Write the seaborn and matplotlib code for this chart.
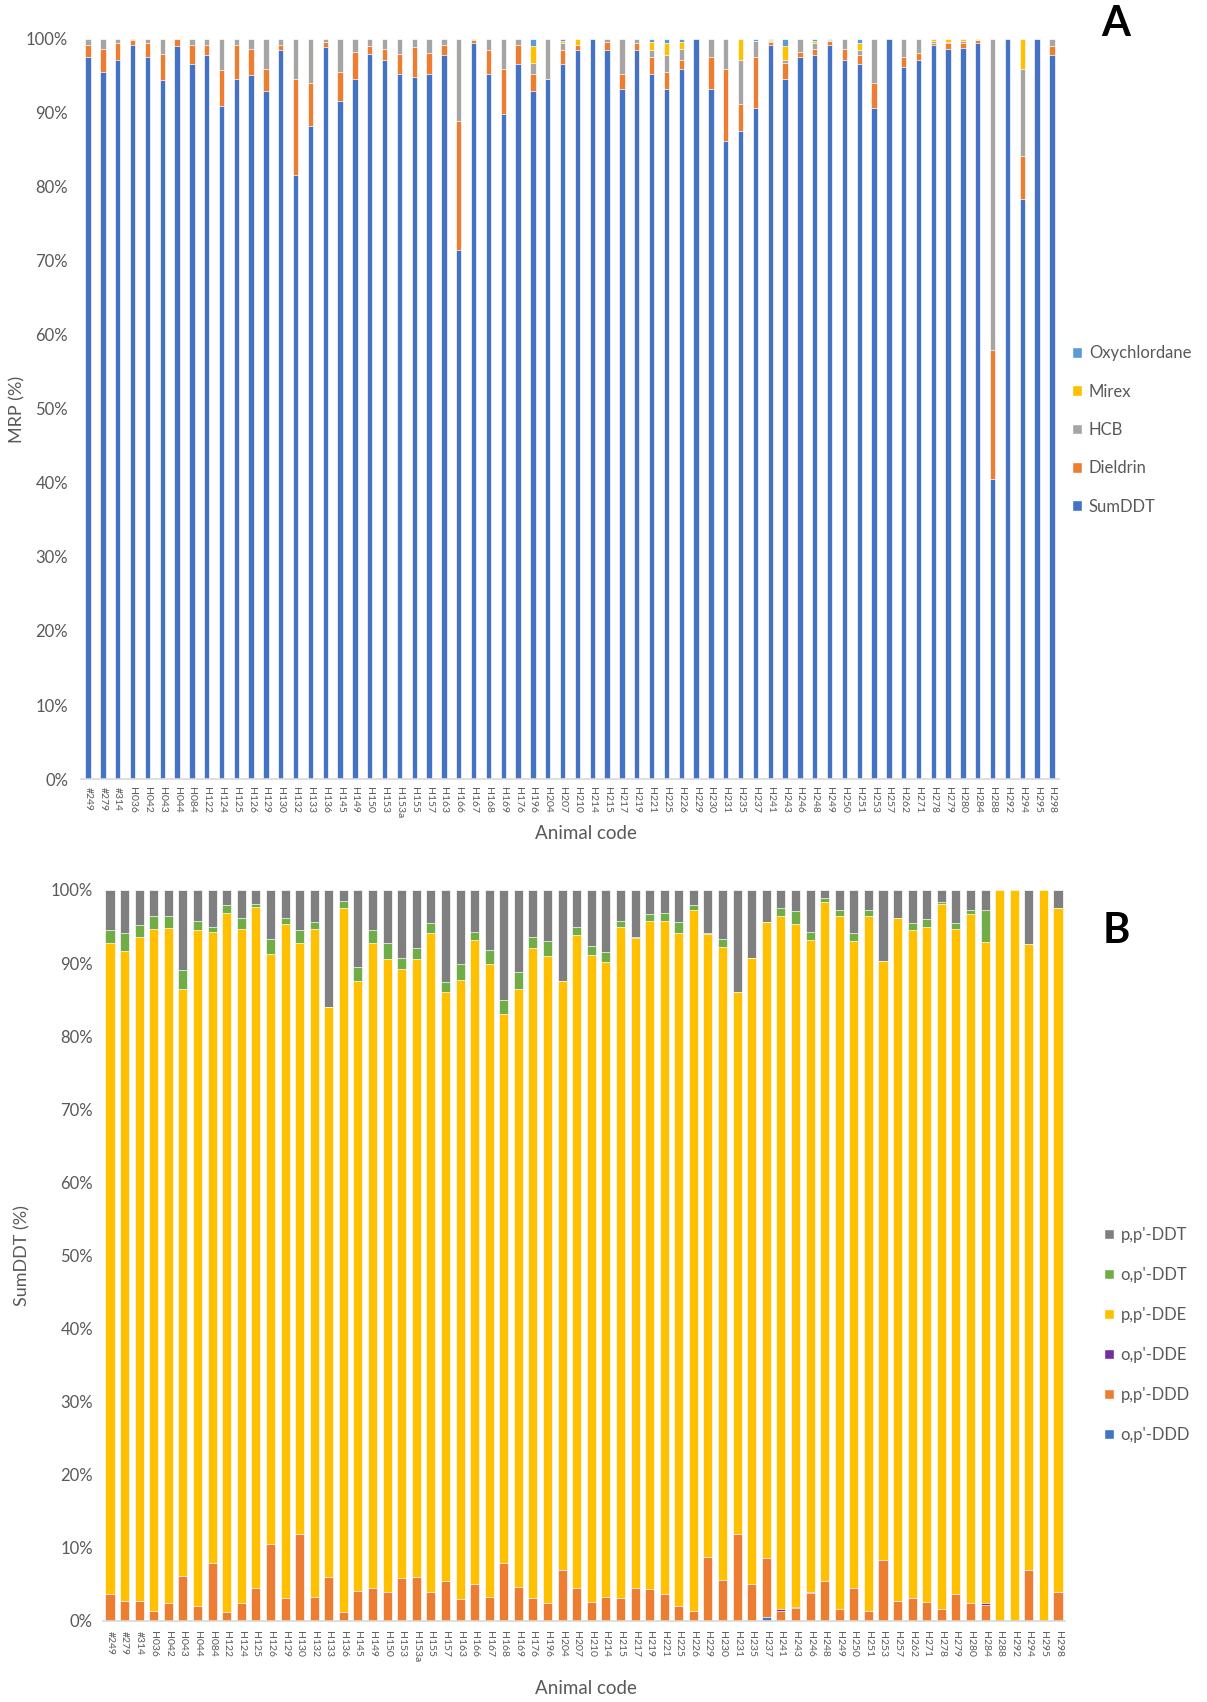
import numpy as np
import pandas as pd
import matplotlib
matplotlib.use("Agg")
import matplotlib.pyplot as plt
from matplotlib.patches import Patch
from matplotlib.ticker import PercentFormatter, MultipleLocator
import seaborn as sns

# ---------------------------------------------------------------- data
animal_codes = [
    "#249", "#279", "#314", "H036", "H042", "H043", "H044", "H084", "H122", "H124",
    "H125", "H126", "H129", "H130", "H132", "H133", "H136", "H145", "H149", "H150",
    "H153", "H153a", "H155", "H157", "H163", "H166", "H167", "H168", "H169", "H176",
    "H196", "H204", "H207", "H210", "H214", "H215", "H217", "H219", "H221", "H225",
    "H226", "H229", "H230", "H231", "H235", "H237", "H241", "H243", "H246", "H248",
    "H249", "H250", "H251", "H253", "H257", "H262", "H271", "H278", "H279", "H280",
    "H284", "H288", "H292", "H294", "H295", "H298",
]

# Panel A: composition of the measured residue profile (%)
sum_ddt = [
    97.6, 95.6, 97.1, 99.2, 97.5, 94.4, 99.1, 96.6, 97.8, 91.0,
    94.6, 95.1, 93.0, 98.5, 81.6, 88.3, 98.9, 91.6, 94.6, 98.0,
    97.1, 95.3, 94.8, 95.3, 97.8, 71.5, 99.4, 95.3, 89.8, 96.6,
    93.0, 94.6, 96.6, 98.5, 100.0, 98.5, 93.2, 98.5, 95.3, 93.2,
    96.0, 100.0, 93.3, 86.2, 87.5, 90.7, 99.2, 94.6, 97.5, 97.8,
    99.2, 97.2, 96.6, 90.7, 100.0, 96.2, 97.1, 99.2, 98.7, 98.8,
    99.4, 40.5, 100.0, 78.2, 100.0, 97.8,
]
dieldrin = [
    1.6, 3.1, 2.3, 0.6, 1.9, 3.6, 0.9, 2.6, 1.4, 4.8,
    4.6, 3.6, 3.0, 0.7, 13.0, 5.7, 0.7, 3.9, 3.7, 1.1,
    1.6, 2.7, 4.1, 2.8, 1.4, 17.4, 0.5, 3.2, 6.2, 2.6,
    2.3, 0.0, 1.9, 0.7, 0.0, 1.1, 2.1, 1.0, 2.3, 2.3,
    1.2, 0.0, 4.3, 9.8, 3.7, 6.8, 0.35, 2.1, 0.8, 0.9,
    0.5, 1.5, 1.2, 3.3, 0.0, 1.4, 1.0, 0.2, 0.7, 0.7,
    0.4, 17.5, 0.0, 5.7, 0.0, 1.3,
]
hcb = [
    0.8, 1.3, 0.6, 0.2, 0.6, 2.0, 0.0, 0.8, 0.8, 4.2,
    0.8, 1.3, 4.0, 0.8, 5.4, 6.0, 0.4, 4.5, 1.7, 0.9,
    1.3, 2.0, 1.1, 1.9, 0.8, 11.1, 0.1, 1.5, 4.0, 0.8,
    1.4, 5.4, 0.9, 0.0, 0.0, 0.4, 4.7, 0.5, 0.9, 2.3,
    1.5, 0.0, 2.4, 4.0, 5.9, 2.2, 0.2, 0.5, 1.7, 0.7,
    0.0, 1.3, 0.7, 6.0, 0.0, 2.4, 1.9, 0.3, 0.2, 0.2,
    0.0, 42.0, 0.0, 11.8, 0.0, 0.9,
]
mirex = [
    0.0, 0.0, 0.0, 0.0, 0.0, 0.0, 0.0, 0.0, 0.0, 0.0,
    0.0, 0.0, 0.0, 0.0, 0.0, 0.0, 0.0, 0.0, 0.0, 0.0,
    0.0, 0.0, 0.0, 0.0, 0.0, 0.0, 0.0, 0.0, 0.0, 0.0,
    2.4, 0.0, 0.3, 0.8, 0.0, 0.0, 0.0, 0.0, 1.1, 1.6,
    0.9, 0.0, 0.0, 0.0, 2.9, 0.0, 0.15, 1.9, 0.0, 0.3,
    0.2, 0.0, 0.9, 0.0, 0.0, 0.0, 0.0, 0.3, 0.4, 0.3,
    0.2, 0.0, 0.0, 4.0, 0.0, 0.0,
]
oxychlordane = [
    0.0, 0.0, 0.0, 0.0, 0.0, 0.0, 0.0, 0.0, 0.0, 0.0,
    0.0, 0.0, 0.0, 0.0, 0.0, 0.0, 0.0, 0.0, 0.0, 0.0,
    0.0, 0.0, 0.0, 0.0, 0.0, 0.0, 0.0, 0.0, 0.0, 0.0,
    0.9, 0.0, 0.3, 0.0, 0.0, 0.0, 0.0, 0.0, 0.4, 0.6,
    0.4, 0.0, 0.0, 0.0, 0.0, 0.3, 0.1, 0.9, 0.0, 0.3,
    0.1, 0.0, 0.6, 0.0, 0.0, 0.0, 0.0, 0.0, 0.0, 0.0,
    0.0, 0.0, 0.0, 0.0, 0.0, 0.0,
]

# Panel B: congener composition of SumDDT (%)
op_ddd = [
    0.0, 0.0, 0.0, 0.0, 0.0, 0.0, 0.0, 0.0, 0.0, 0.0,
    0.0, 0.0, 0.0, 0.0, 0.0, 0.0, 0.0, 0.0, 0.0, 0.0,
    0.0, 0.0, 0.0, 0.0, 0.0, 0.0, 0.0, 0.0, 0.0, 0.0,
    0.0, 0.0, 0.0, 0.0, 0.0, 0.0, 0.0, 0.0, 0.0, 0.0,
    0.0, 0.0, 0.0, 0.0, 0.0, 0.5, 0.0, 0.0, 0.0, 0.0,
    0.0, 0.0, 0.0, 0.0, 0.0, 0.0, 0.0, 0.0, 0.0, 0.0,
    0.0, 0.0, 0.0, 0.0, 0.0, 0.0,
]
pp_ddd = [
    3.7, 2.7, 2.7, 1.4, 2.4, 6.2, 2.0, 7.9, 1.2, 2.4,
    4.5, 10.5, 3.1, 11.9, 3.3, 6.0, 1.2, 4.1, 4.5, 4.0,
    5.9, 6.0, 4.0, 5.5, 3.0, 5.1, 3.3, 8.0, 4.7, 3.1,
    2.4, 7.0, 4.5, 2.6, 3.3, 3.1, 4.5, 4.4, 3.7, 2.1,
    1.4, 8.8, 5.6, 11.9, 5.1, 8.1, 1.4, 1.8, 3.8, 5.5,
    1.7, 4.5, 1.4, 8.4, 2.7, 3.1, 2.6, 1.6, 3.7, 2.4,
    2.2, 0.0, 0.0, 7.0, 0.0, 4.0,
]
op_dde = [
    0.0, 0.0, 0.0, 0.0, 0.0, 0.0, 0.0, 0.0, 0.0, 0.0,
    0.0, 0.0, 0.0, 0.0, 0.0, 0.0, 0.0, 0.0, 0.0, 0.0,
    0.0, 0.0, 0.0, 0.0, 0.0, 0.0, 0.0, 0.0, 0.0, 0.0,
    0.0, 0.0, 0.0, 0.0, 0.0, 0.0, 0.0, 0.0, 0.0, 0.0,
    0.0, 0.0, 0.0, 0.0, 0.0, 0.0, 0.2, 0.15, 0.2, 0.0,
    0.0, 0.0, 0.0, 0.0, 0.0, 0.0, 0.0, 0.0, 0.0, 0.0,
    0.2, 0.0, 0.0, 0.0, 0.0, 0.0,
]
pp_dde = [
    89.1, 88.9, 90.9, 93.3, 92.4, 80.3, 92.5, 86.4, 95.6, 92.2,
    93.2, 80.8, 92.3, 80.9, 91.4, 78.0, 96.3, 83.5, 88.3, 86.5,
    83.3, 84.5, 90.1, 80.6, 84.7, 88.1, 86.6, 75.1, 81.8, 89.0,
    88.6, 80.6, 89.4, 88.5, 86.8, 91.9, 88.9, 91.3, 92.1, 92.0,
    95.8, 85.2, 86.6, 74.2, 85.6, 87.0, 94.8, 93.4, 89.2, 92.8,
    94.8, 88.5, 95.1, 81.9, 93.4, 91.4, 92.4, 96.5, 91.0, 94.3,
    90.5, 100.0, 100.0, 85.6, 100.0, 93.5,
]
op_ddt = [
    1.7, 2.5, 1.6, 1.7, 1.7, 2.5, 1.3, 0.7, 1.2, 1.5,
    0.4, 2.0, 0.7, 1.7, 0.9, 0.0, 1.0, 1.9, 1.7, 2.3,
    1.5, 1.5, 1.4, 1.3, 2.2, 1.1, 1.9, 1.9, 2.3, 1.4,
    2.0, 0.0, 1.0, 1.3, 1.4, 0.8, 0.1, 1.0, 1.1, 1.5,
    0.8, 0.1, 1.1, 0.0, 0.0, 0.0, 1.1, 1.7, 1.1, 0.6,
    0.8, 1.1, 0.8, 0.0, 0.0, 1.0, 1.0, 0.2, 0.8, 0.6,
    4.4, 0.0, 0.0, 0.0, 0.0, 0.0,
]
pp_ddt = [
    5.5, 5.9, 4.8, 3.6, 3.5, 11.0, 4.2, 5.0, 2.0, 3.9,
    1.9, 6.7, 3.9, 5.5, 4.4, 16.0, 1.5, 10.5, 5.5, 7.2,
    9.3, 8.0, 4.5, 12.6, 10.1, 5.7, 8.2, 15.0, 11.2, 6.5,
    7.0, 12.4, 5.1, 7.6, 8.5, 4.2, 6.5, 3.3, 3.1, 4.4,
    2.0, 5.9, 6.7, 13.9, 9.3, 4.4, 2.5, 2.9, 5.7, 1.1,
    2.7, 5.9, 2.7, 9.7, 3.9, 4.5, 4.0, 1.7, 4.5, 2.7,
    2.7, 0.0, 0.0, 7.4, 0.0, 2.5,
]

# series in stacking order (bottom -> top), with Office-style colours
series_a = [
    ("SumDDT", sum_ddt, "#4472C4"),
    ("Dieldrin", dieldrin, "#ED7D31"),
    ("HCB", hcb, "#A5A5A5"),
    ("Mirex", mirex, "#FFC000"),
    ("Oxychlordane", oxychlordane, "#5B9BD5"),
]
series_b = [
    ("o,p'-DDD", op_ddd, "#4472C4"),
    ("p,p'-DDD", pp_ddd, "#ED7D31"),
    ("o,p'-DDE", op_dde, "#7030A0"),
    ("p,p'-DDE", pp_dde, "#FFC000"),
    ("o,p'-DDT", op_ddt, "#70AD47"),
    ("p,p'-DDT", pp_ddt, "#7F7F7F"),
]

# ---------------------------------------------------------------- style
sns.set_theme(style="white")
plt.rcParams["font.family"] = ["Lato", "DejaVu Sans"]
TEXT = "#595959"


def stacked_percent(ax, series, width):
    """100 % stacked bars: cumulative heights drawn tallest first."""
    df = pd.DataFrame({name: vals for name, vals, _ in series}, index=animal_codes)
    df = df.div(df.sum(axis=1), axis=0)
    cum = df.cumsum(axis=1)
    for name, _, color in reversed(series):
        sns.barplot(x=animal_codes, y=cum[name].values, order=animal_codes,
                    color=color, saturation=1, width=width, errorbar=None,
                    edgecolor="white", linewidth=0.5, ax=ax)
    ax.set_ylim(0, 1)
    ax.set_xlim(-0.5, len(animal_codes) - 0.5)
    ax.yaxis.set_major_locator(MultipleLocator(0.1))
    ax.yaxis.set_major_formatter(PercentFormatter(1.0, decimals=0))
    for s in ("top", "right", "left"):
        ax.spines[s].set_visible(False)
    ax.spines["bottom"].set_color("#D9D9D9")
    ax.spines["bottom"].set_linewidth(1.2)
    ax.grid(False)
    ax.tick_params(axis="y", length=0, labelsize=12, labelcolor=TEXT)
    ax.tick_params(axis="x", length=0, labelsize=7.5, labelcolor=TEXT)
    plt.setp(ax.get_xticklabels(), rotation=270, ha="center", va="top")


fig = plt.figure(figsize=(12.07, 17.02), dpi=100)

# ---------------------------------------------------------------- panel A
ax_a = fig.add_axes([0.0668, 0.5423, 0.8109, 0.4348])
stacked_percent(ax_a, series_a, 0.36)
ax_a.tick_params(axis="y", pad=9)
ax_a.tick_params(axis="x", pad=6)
ax_a.set_ylabel("MRP (%)", fontsize=13, color=TEXT)
ax_a.yaxis.set_label_coords(-0.056, 0.5)
ax_a.set_xlabel("Animal code", fontsize=13.5, color=TEXT)
ax_a.xaxis.set_label_coords(0.516, -0.062)
ax_a.legend(handles=[Patch(facecolor=c, label=n) for n, _, c in reversed(series_a)],
            loc="upper left", bbox_to_anchor=(0.876, 0.806),
            bbox_transform=fig.transFigure, frameon=False,
            handlelength=0.6, handleheight=0.6, handletextpad=0.4,
            labelspacing=1.34, fontsize=12, labelcolor=TEXT)
fig.text(1116 / 1207, 1 - 24 / 1702, "A", fontsize=30, fontweight="bold",
         ha="center", va="center", color="black")

# ---------------------------------------------------------------- panel B
ax_b = fig.add_axes([0.0851, 0.0476, 0.7975, 0.4295])
stacked_percent(ax_b, series_b, 0.62)
ax_b.tick_params(axis="y", pad=7)
ax_b.tick_params(axis="x", pad=7)
ax_b.set_ylabel("SumDDT (%)", fontsize=13, color=TEXT)
ax_b.yaxis.set_label_coords(-0.0755, 0.5)
ax_b.set_xlabel("Animal code", fontsize=13.5, color=TEXT)
ax_b.xaxis.set_label_coords(0.502, -0.081)
ax_b.legend(handles=[Patch(facecolor=c, label=n) for n, _, c in reversed(series_b)],
            loc="upper left", bbox_to_anchor=(0.902, 0.288),
            bbox_transform=fig.transFigure, frameon=False,
            handlelength=0.6, handleheight=0.6, handletextpad=0.4,
            labelspacing=1.44, fontsize=12, labelcolor=TEXT)
fig.text(1116 / 1207, 1 - 931 / 1702, "B", fontsize=30, fontweight="bold",
         ha="center", va="center", color="black")

fig.savefig("out.png", dpi=100)
